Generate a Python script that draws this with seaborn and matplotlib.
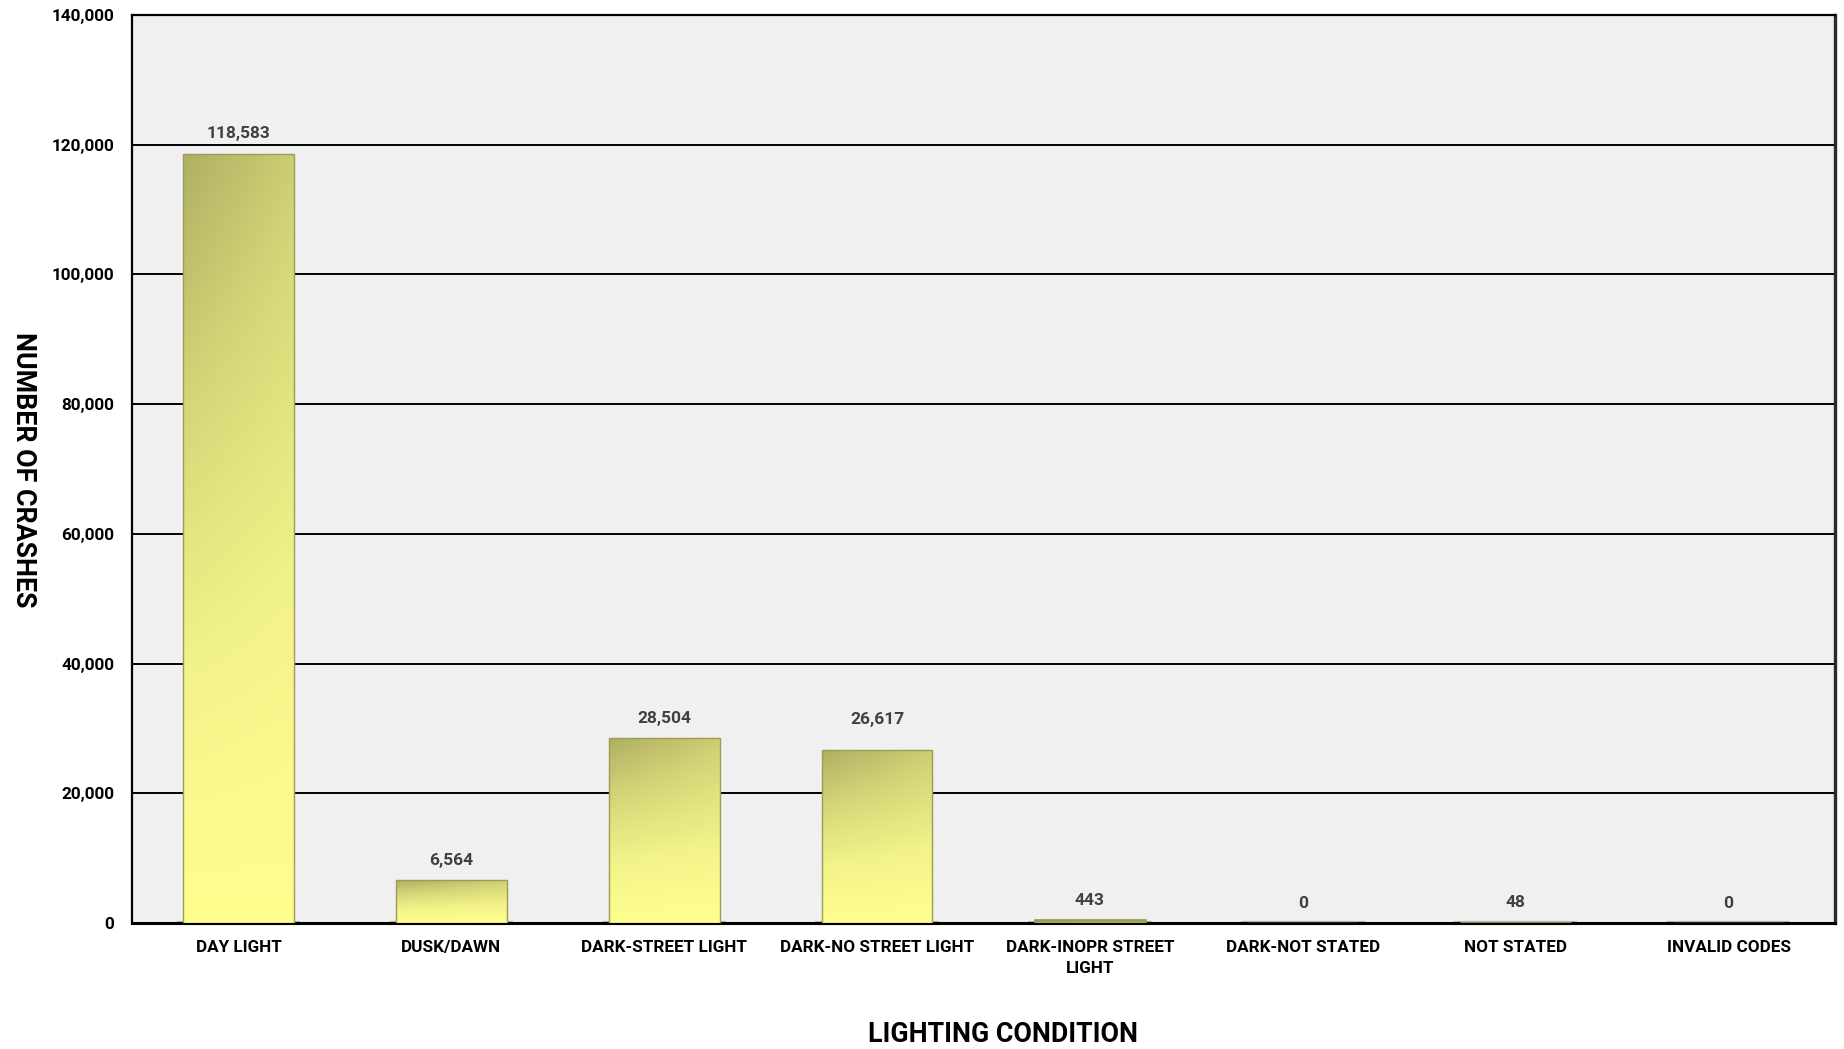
import numpy as np
import pandas as pd
import matplotlib.pyplot as plt
import matplotlib.colors as mcolors
from matplotlib.ticker import FuncFormatter
import seaborn as sns

# ---------- Data ----------
conditions = ["DAY LIGHT", "DUSK/DAWN", "DARK-STREET LIGHT", "DARK-NO STREET LIGHT",
              "DARK-INOPR STREET\nLIGHT", "DARK-NOT STATED", "NOT STATED", "INVALID CODES"]
crashes = [118583, 6564, 28504, 26617, 443, 0, 48, 0]
y_ticks = [0, 20000, 40000, 60000, 80000, 100000, 120000, 140000]

df = pd.DataFrame({"condition": conditions, "crashes": crashes})

# ---------- Style ----------
sns.set_style("white")
plt.rcParams['font.family'] = ['Roboto', 'DejaVu Sans']
plt.rcParams['font.weight'] = 'bold'

fig = plt.figure(figsize=(18.44, 10.49), dpi=100)
ax = fig.add_axes([0.0716, 0.1201, 0.9235, 0.8656])
ax.set_facecolor("#f0f0f0")

sns.barplot(data=df, x="condition", y="crashes", ax=ax, width=0.52,
            color="#e6e67a", edgecolor="#9c9c55", linewidth=1.0, zorder=3)

ax.set_ylim(0, 140000)
ax.set_xlim(-0.5, len(conditions) - 0.5)
ax.set_yticks(y_ticks)
ax.yaxis.set_major_formatter(FuncFormatter(lambda v, p: f"{int(v):,}"))
ax.yaxis.grid(True, color="black", linewidth=1.4, zorder=1)
ax.set_axisbelow(True)

# gradient fill for each bar (dark olive top -> light yellow bottom)
cmap = mcolors.LinearSegmentedColormap.from_list(
    "olive", ["#ffff90", "#f2f28a", "#d6d678", "#afaf64"])
grad = np.linspace(0, 1, 256).reshape(-1, 1)
grad = np.hstack([grad * (1 - 0.25 * x) for x in np.linspace(0, 1, 64)])
for patch in ax.patches:
    x0, y0 = patch.get_x(), patch.get_y()
    w, h = patch.get_width(), patch.get_height()
    cx = x0 + w / 2
    # shadow under each bar at the base
    ax.plot([cx - 0.29, cx + 0.29], [0, 0], color="#b8b8b8", linewidth=3,
            solid_capstyle="butt", zorder=2, clip_on=False)
    if h <= 0:
        continue
    img = ax.imshow(grad, cmap=cmap, aspect="auto", origin="lower",
                    extent=[x0, x0 + w, y0, y0 + h], zorder=3.5)
    img.set_clip_path(patch)
    patch.set_facecolor("none")
    patch.set_zorder(4)
    if h < 1000:
        patch.set_linewidth(2.0)

# value labels (Excel lifted the 26,617 label a little)
label_offsets = [9, 9, 9, 17, 9, 9, 9, 9]
for i, v in enumerate(crashes):
    ax.annotate(f"{v:,}", (i, v), xytext=(0, label_offsets[i]), textcoords="offset points",
                ha="center", va="bottom", fontsize=12.5, fontweight="bold",
                color="#404040", zorder=5)

ax.tick_params(axis="both", length=0, labelsize=12.3, colors="black")
ax.tick_params(axis="x", pad=12)
ax.tick_params(axis="y", pad=13)
for lab in ax.get_xticklabels() + ax.get_yticklabels():
    lab.set_fontweight("bold")
for lab in ax.get_xticklabels():
    lab.set_linespacing(1.55)

for side in ["left", "top", "bottom"]:
    ax.spines[side].set_visible(True)
    ax.spines[side].set_color("black")
ax.spines["left"].set_linewidth(1.6)
ax.spines["top"].set_linewidth(1.6)
ax.spines["bottom"].set_linewidth(2.2)
ax.spines["right"].set_color("#2a2a2a")
ax.spines["right"].set_linewidth(2.4)

ax.set_xlabel("")
ax.set_ylabel("")
fig.text(0.0125, 0.552, "NUMBER OF CRASHES", rotation=-90, ha="center", va="center",
         fontsize=19.3, fontweight="bold", color="black")
fig.text(0.544, 0.014, "LIGHTING CONDITION", ha="center", va="center",
         fontsize=19.3, fontweight="bold", color="black")

fig.savefig("out.png", dpi=100, facecolor="white")
